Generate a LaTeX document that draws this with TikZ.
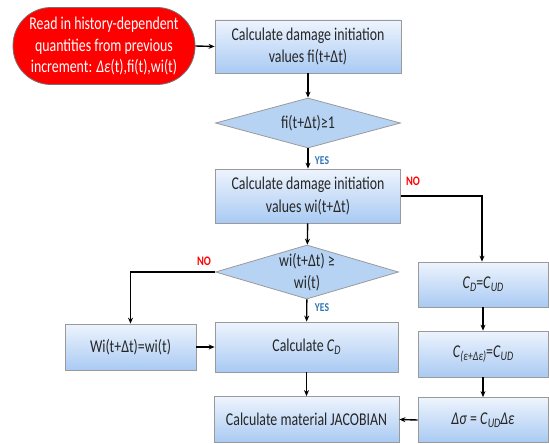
\documentclass[tikz,border=0pt]{standalone}
\usepackage{fontspec}
\setmainfont{Carlito}[FakeStretch=0.77]
\newfontfamily\lblfont{Carlito}[FakeStretch=0.8]
\usetikzlibrary{shapes.geometric,arrows.meta}
\definecolor{boxtop}{HTML}{EEF4FD}
\definecolor{boxbot}{HTML}{A9CAF3}
\definecolor{boxline}{HTML}{9A9A9A}
\definecolor{diafill}{HTML}{B7D3F4}
\definecolor{yesblue}{HTML}{2E75B6}
\definecolor{nored}{HTML}{FF0000}
\newcommand{\mysub}[1]{\raisebox{-0.35ex}{\fontsize{13}{13}\selectfont\textit{#1}}}
\begin{document}
\begin{tikzpicture}[x=1pt,y=-1pt,
  stepbox/.style={rectangle,draw=boxline,line width=0.8pt,top color=boxtop,bottom color=boxbot,
    align=center,inner sep=2pt,font=\fontsize{18}{22.5}\selectfont,text=black!85},
  decision/.style={diamond,draw=boxline,line width=0.8pt,fill=diafill,inner sep=0pt},
  dtext/.style={align=center,font=\fontsize{18}{22.5}\selectfont,text=black!85,inner sep=0pt},
  startbox/.style={rectangle,rounded corners=38pt,draw=black!55,line width=0.8pt,fill=nored,
    text=white,align=center,font=\fontsize{18}{21.7}\selectfont},
  conn/.style={-{Stealth[length=6pt,width=5pt]},line width=1.4pt},
  yeslbl/.style={text=yesblue,font=\lblfont\bfseries\fontsize{12}{13}\selectfont,inner sep=0pt},
  nolbl/.style={text=nored,font=\lblfont\bfseries\fontsize{13}{14}\selectfont,inner sep=0pt}]
\useasboundingbox (0,0) rectangle (549,444);

\node[startbox,minimum width=182pt,minimum height=77pt] (start) at (104,46)
  {Read in history-dependent\\quantities from previous\\increment: \textit{Δε}(t),fi(t),wi(t)};
\node[stepbox,minimum width=186pt,minimum height=53pt] (b1) at (308,46.5)
  {Calculate damage initiation\\values fi(t+Δt)};
\node[decision,minimum width=185pt,minimum height=50pt] (d1) at (308,123) {};
\node[dtext] (d1t) at (d1) {fi(t+Δt)≥1};
\node[stepbox,minimum width=185pt,minimum height=54pt] (b2) at (308,196)
  {Calculate damage initiation\\values wi(t+Δt)};
\node[decision,minimum width=183pt,minimum height=54pt] (d2) at (307,272) {};
\node[dtext] (d2t) at (d2) {wi(t+Δt) ≥\\wi(t)};
\node[stepbox,minimum width=131pt,minimum height=46pt] (wi) at (130.5,347)
  {Wi(t+Δt)=wi(t)};
\node[stepbox,minimum width=183pt,minimum height=50pt] (cd) at (306.5,347)
  {Calculate \textit{C}\mysub{D}};
\node[stepbox,minimum width=185pt,minimum height=46pt] (jac) at (306.5,419.5)
  {Calculate material JACOBIAN};
\node[stepbox,minimum width=130pt,minimum height=45pt] (r1) at (483,284.5)
  {\textit{C}\mysub{D}=\textit{C}\mysub{UD}};
\node[stepbox,minimum width=130pt,minimum height=46pt] (r2) at (483,354)
  {\textit{C}\mysub{(ε+Δε)}=\textit{C}\mysub{UD}};
\node[stepbox,minimum width=130pt,minimum height=45pt] (r3) at (483,420)
  {\textit{Δσ} = \textit{C}\mysub{UD}\textit{Δε}};

\coordinate (xr) at (482,0);
\coordinate (xl) at (130.5,0);
\coordinate (c1) at (b2.east -| xr);
\coordinate (c2) at (d2.west -| xl);

\draw[conn] (start.east) -- (b1.west);
\draw[conn] (b1) -- (d1);
\draw[conn] (d1) -- (b2);
\draw[conn] (b2) -- (d2);
\draw[conn] (d2) -- (cd);
\draw[conn] (cd) -- (jac);
\draw[conn] (wi) -- (cd);
\draw[conn] (b2.east) -- (c1) -- (r1.north -| c1);
\draw[conn] (d2.west) -- (c2) -- (wi.north);
\draw[conn] (r1) -- (r2);
\draw[conn] (r2) -- (r3);
\draw[conn] (r3.west) -- (jac.east);

\node[yeslbl] (y1) at (322,161) {YES};
\node[yeslbl] (y2) at (322,308) {YES};
\node[nolbl] (n1) at (413,181) {NO};
\node[nolbl] (n2) at (204,261) {NO};
\end{tikzpicture}
\end{document}
